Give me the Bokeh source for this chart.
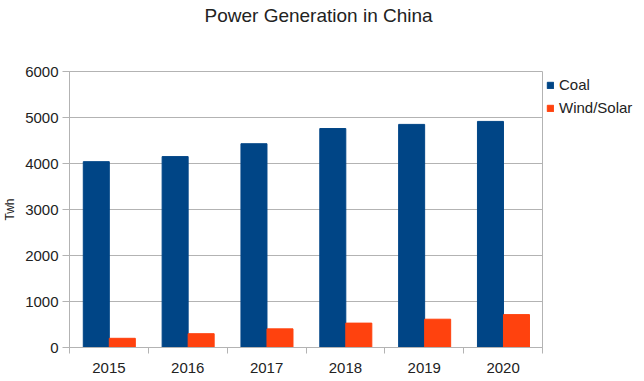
from bokeh.plotting import figure
from bokeh.models import FixedTicker, Legend, LegendItem, ColumnDataSource, Title
from bokeh.embed import file_html
from bokeh.resources import INLINE

years = ["2015", "2016", "2017", "2018", "2019", "2020"]
coal = [4040, 4150, 4430, 4760, 4850, 4915]
wind_solar = [200, 300, 405, 530, 615, 715]

COAL_COLOR = "#004586"
WIND_COLOR = "#ff420e"
FONT = "Liberation Sans"

idx = list(range(len(years)))
src = ColumnDataSource(dict(
    year=years,
    xc=[i + 0.34 for i in idx],
    xw=[i + 0.67 for i in idx],
    coal=coal,
    wind=wind_solar,
))

p = figure(frame_width=473, frame_height=276, output_backend="svg", toolbar_location=None,
           x_range=(0, len(years)), y_range=(0, 6000),
           min_border_left=59, min_border_top=71, min_border_bottom=26, min_border_right=0)

p.add_layout(Title(text=" ", text_font_size="40px", standoff=0), "above")
p.add_layout(Title(text="Power Generation in China", align="left", offset=135,
                   text_font=FONT, text_font_size="19px", text_font_style="normal",
                   text_color="#222222", standoff=0), "above")

rc = p.vbar(x="xc", top="coal", width=0.33, source=src, fill_color=COAL_COLOR, line_color=COAL_COLOR)
rw = p.vbar(x="xw", top="wind", width=0.33, source=src, fill_color=WIND_COLOR, line_color=WIND_COLOR)

centers = [i + 0.5 for i in idx]
bounds = list(range(len(years) + 1))
p.xaxis.ticker = FixedTicker(ticks=centers, minor_ticks=bounds)
p.xaxis.major_label_overrides = {c: y for c, y in zip(centers, years)}
p.xaxis.major_tick_line_color = None
p.xaxis.minor_tick_out = 6
p.xaxis.minor_tick_in = 0
p.xaxis.minor_tick_line_color = "#b3b3b3"
p.xaxis.axis_line_color = "#b3b3b3"
p.xaxis.major_label_text_font = FONT
p.xaxis.major_label_text_font_size = "15px"
p.xaxis.major_label_text_color = "#222222"
p.xaxis.major_label_standoff = 9

p.yaxis.ticker = FixedTicker(ticks=[0, 1000, 2000, 3000, 4000, 5000, 6000])
p.yaxis.axis_line_color = "#b3b3b3"
p.yaxis.major_tick_line_color = "#b3b3b3"
p.yaxis.major_tick_out = 7
p.yaxis.major_tick_in = 0
p.yaxis.minor_tick_line_color = None
p.yaxis.major_label_text_font = FONT
p.yaxis.major_label_text_font_size = "15px"
p.yaxis.major_label_text_color = "#222222"
p.yaxis.major_label_standoff = 4
p.yaxis.axis_label = "Twh"
p.yaxis.axis_label_text_font = FONT
p.yaxis.axis_label_text_font_size = "12px"
p.yaxis.axis_label_text_font_style = "normal"
p.yaxis.axis_label_text_color = "#222222"
p.yaxis.axis_label_standoff = 5

p.xgrid.grid_line_color = None
p.ygrid.grid_line_color = "#b3b3b3"
p.outline_line_color = "#b3b3b3"

legend = Legend(items=[LegendItem(label="Coal", renderers=[rc]),
                       LegendItem(label="Wind/Solar", renderers=[rw])],
                location="top_left", border_line_color=None, background_fill_alpha=0,
                glyph_width=8, glyph_height=8, label_text_font=FONT,
                label_text_font_size="15px", label_text_color="#222222",
                label_standoff=5, spacing=4, padding=0, margin=4, label_height=19)
p.add_layout(legend, "right")

open("out.html", "w").write(file_html(p, INLINE))
